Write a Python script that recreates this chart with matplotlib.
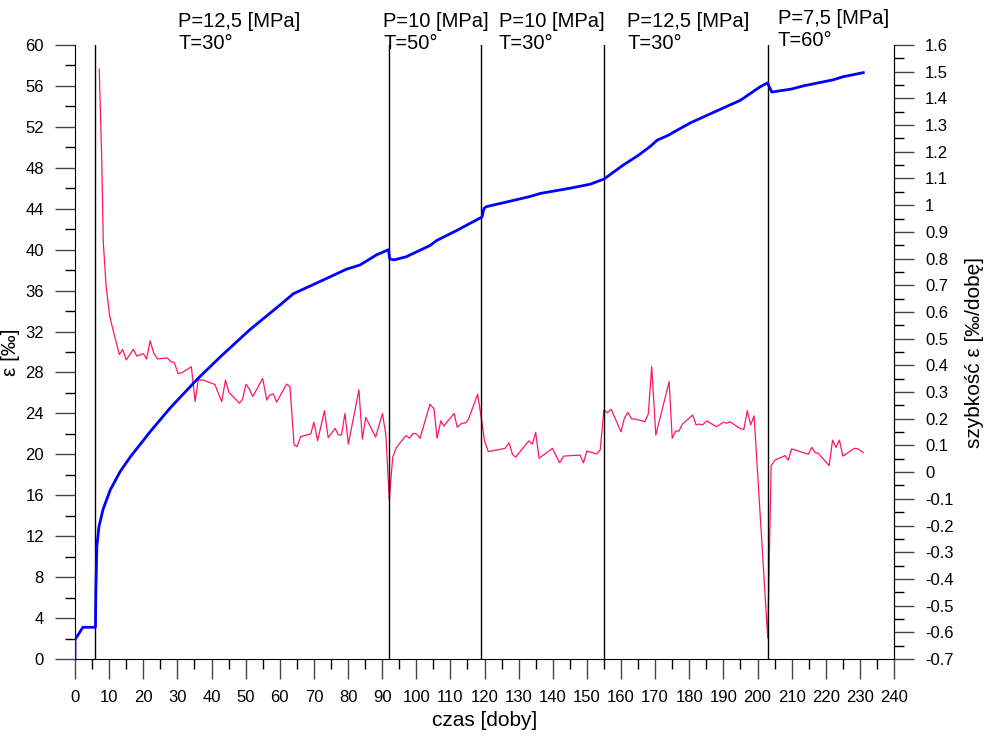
import matplotlib.pyplot as plt
import matplotlib.ticker as mticker
from matplotlib.transforms import blended_transform_factory

plt.rcParams['font.family'] = ['Liberation Sans', 'DejaVu Sans']

# odkształcenie (oś lewa)
eps_czas = [0, 0, 2.3, 5.9, 6.0, 6.1, 6.4, 7.0, 8.2, 10.3, 13.2, 16.1, 22.0, 27.8,
            35.7, 42.5, 51.3, 60.1, 64.0, 69.9, 73.8, 79.6, 83.5, 88.4, 91.9, 92.2,
            93.5, 97, 104, 106, 112, 119.3, 119.8, 120.5, 127, 133.4, 136.4, 145,
            151, 155, 160.8, 165, 168.6, 170.6, 174, 175.5, 180.4, 187, 195, 200.7,
            202.9, 204.2, 210, 213.4, 222.2, 225.1, 231]
eps = [0, 1.9, 3.1, 3.1, 3.1, 6.5, 11.0, 12.9, 14.6, 16.5, 18.3, 19.7, 22.2, 24.5,
       27.3, 29.5, 32.2, 34.6, 35.7, 36.6, 37.2, 38.1, 38.5, 39.5, 40.0, 39.1,
       39.0, 39.3, 40.4, 40.9, 41.9, 43.2, 44.0, 44.2, 44.7, 45.2, 45.5, 46.0,
       46.4, 46.9, 48.3, 49.2, 50.1, 50.7, 51.2, 51.5, 52.4, 53.4, 54.6, 55.9,
       56.3, 55.4, 55.7, 56.0, 56.6, 56.9, 57.3]

# szybkość odkształcenia (oś prawa)
v_czas = [7.1, 7.8, 8.3, 9.1, 10.1, 11.0, 13.0, 14.0, 15.0, 17.1, 18.1, 20.0, 21.0,
          22.0, 23.1, 24.2, 27.0, 28.1, 29.1, 30.2, 31.3, 34.1, 35.2, 36.1, 37.6,
          41.0, 43.0, 44.1, 45.1, 48.2, 49.1, 50.1, 51.1, 52.1, 55.0, 56.2, 57.1,
          58.1, 59.1, 62.0, 63.0, 64.2, 65.1, 66.1, 69.1, 70.0, 71.1, 73.1, 74.2,
          76.2, 77.2, 78.1, 79.1, 80.1, 83.2, 84.2, 85.2, 88.1, 90.1, 91.1, 92.1,
          93.1, 94.2, 97.0, 98.0, 99.1, 100.1, 101.1, 104.0, 105.2, 106.1, 107.2,
          108.1, 111.1, 112.0, 113.3, 114.5, 115.3, 118.0, 119.0, 120.0, 121.1,
          126.0, 127.2, 128.2, 129.1, 133.0, 134.0, 135.0, 136.0, 139.9, 142.0,
          143.2, 148.0, 149.0, 150.0, 152.9, 153.9, 155.0, 156.0, 157.1, 160.0,
          161.0, 162.0, 163.1, 164.1, 167.0, 168.0, 169.0, 170.2, 174.1, 175.0,
          176.0, 177.0, 178.0, 181.0, 182.0, 182.9, 183.9, 185.1, 188.0, 190.0,
          191.0, 191.9, 195.1, 196.0, 197.0, 198.0, 199.0, 203.0, 204.0, 205.1,
          208.1, 209.0, 210.0, 214.9, 215.9, 216.9, 217.8, 221.0, 222.0, 223.0,
          224.0, 225.0, 228.4, 229.5, 231.0]
v = [1.51, 1.19, 0.86, 0.70, 0.59, 0.54, 0.44, 0.46, 0.42, 0.46, 0.435, 0.444, 0.424,
     0.492, 0.445, 0.424, 0.428, 0.414, 0.411, 0.369, 0.372, 0.395, 0.264, 0.345, 0.345,
     0.328, 0.264, 0.345, 0.299, 0.258, 0.273, 0.329, 0.311, 0.283, 0.351, 0.270, 0.289,
     0.293, 0.262, 0.330, 0.320, 0.102, 0.095, 0.133, 0.143, 0.187, 0.118, 0.230, 0.129,
     0.164, 0.139, 0.139, 0.220, 0.105, 0.308, 0.124, 0.205, 0.131, 0.220, 0.139, -0.104,
     0.056, 0.093, 0.137, 0.127, 0.145, 0.143, 0.127, 0.254, 0.237, 0.127, 0.192,
     0.173, 0.220, 0.168, 0.183, 0.185, 0.198, 0.292, 0.208, 0.117, 0.077,
     0.089, 0.110, 0.067, 0.056, 0.117, 0.105, 0.149, 0.052, 0.089, 0.035,
     0.060, 0.064, 0.035, 0.079, 0.068, 0.083, 0.234, 0.222, 0.236, 0.151,
     0.202, 0.224, 0.199, 0.199, 0.189, 0.218, 0.395, 0.139, 0.339, 0.127,
     0.154, 0.154, 0.180, 0.214, 0.177, 0.180, 0.177, 0.192, 0.170, 0.187,
     0.183, 0.189, 0.162, 0.160, 0.230, 0.177, 0.211, -0.622, 0.024, 0.045,
     0.062, 0.045, 0.087, 0.067, 0.093, 0.073, 0.071, 0.024, 0.120, 0.092,
     0.120, 0.060, 0.089, 0.087, 0.073]

# zmiany warunków badania
zmiany = [6, 92, 119, 155, 203]
opisy = ["P=12,5 [MPa]\nT=30°", "P=10 [MPa]\nT=50°", "P=10 [MPa]\nT=30°",
         "P=12,5 [MPa]\nT=30°", "P=7,5 [MPa]\nT=60°"]
opisy_x = [30.2, 90.3, 124.2, 161.8, 206.0]

fig = plt.figure(figsize=(9.86, 7.36), dpi=100)
ax = fig.add_axes([75 / 986, 1 - 659 / 736, (894 - 75) / 986, (659 - 45) / 736])
ax2 = ax.twinx()

ax.set_zorder(ax2.get_zorder() + 1)
ax.patch.set_visible(False)

for x in zmiany:
    ax.axvline(x, color="black", linewidth=1, zorder=1)

ax.plot(eps_czas, eps, color="#0000ff", linewidth=2, zorder=3)
ax2.plot(v_czas, v, color="#ff1566", linewidth=0.9)

ax.set_xlim(0, 240)
ax.set_ylim(0, 60)
ax2.set_ylim(-0.7, 1.6)

ax.xaxis.set_major_locator(mticker.MultipleLocator(10))
ax.xaxis.set_minor_locator(mticker.MultipleLocator(5))
ax.yaxis.set_major_locator(mticker.MultipleLocator(4))
ax.yaxis.set_minor_locator(mticker.MultipleLocator(2))
ax2.yaxis.set_major_locator(mticker.MultipleLocator(0.1))
ax2.yaxis.set_minor_locator(mticker.MultipleLocator(0.05))
ax2.yaxis.set_major_formatter(mticker.FuncFormatter(lambda y, p: f"{round(y, 2):g}"))

for a in (ax, ax2):
    a.spines["top"].set_visible(False)
    a.tick_params(which="major", direction="out", length=14.4, width=1, pad=8,
                  labelsize=12, color="#444444")
    a.tick_params(which="minor", direction="out", length=7.2, width=1, color="black")
ax2.spines["left"].set_visible(False)
ax2.spines["bottom"].set_visible(False)

ax.set_xlabel("czas [doby]", fontsize=15, labelpad=4)
ax.set_ylabel("ε [‰]", fontsize=15, labelpad=4)
ax2.set_ylabel("szybkość ε [‰/dobę]", fontsize=15, labelpad=8)

trans = blended_transform_factory(ax.transData, fig.transFigure)
for i in range(len(opisy)):
    y0 = 1 - 9 / 736 if i == 4 else 1 - 12 / 736
    ax.text(opisy_x[i], y0, opisy[i], transform=trans, fontsize=14.5,
            va="top", ha="left", linespacing=1.2)

fig.savefig("out.png", dpi=100)
